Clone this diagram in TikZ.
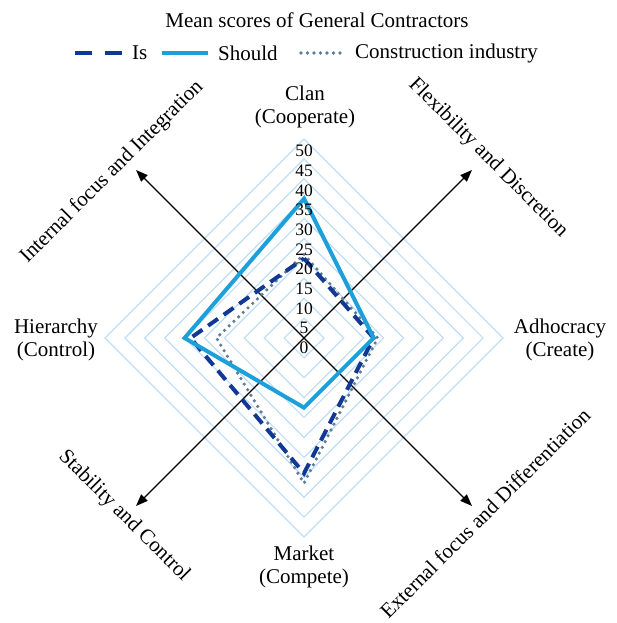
\documentclass[tikz,border=0pt]{standalone}
\usepackage{fontspec}
\setmainfont{Liberation Serif}
\usetikzlibrary{arrows.meta}
\definecolor{gridblue}{RGB}{190,222,248}
\definecolor{shouldc}{RGB}{27,160,220}
\definecolor{isc}{RGB}{16,56,148}
\definecolor{indc}{RGB}{95,125,150}
\tikzset{
 lbl/.style={font=\fontsize{21}{23}\selectfont, align=center, inner sep=0pt},
 numlbl/.style={font=\fontsize{17.5}{17.5}\selectfont, inner sep=0pt},
 gridline/.style={draw=gridblue, line width=1.2pt},
 axisline/.style={draw=black, line width=1.4pt, {Triangle[length=12pt,width=9pt]}-{Triangle[length=12pt,width=9pt]}},
 isline/.style={draw=isc, line width=4pt, dash pattern=on 12pt off 7pt},
 shouldline/.style={draw=shouldc, line width=4pt, line join=miter},
 indline/.style={draw=indc, line width=3.6pt, dash pattern=on 0pt off 6.5pt, line cap=round},
}
\newcommand\myradar[5]{\draw[#1] (304,{338-#2*3.98}) -- ({304+#3*3.98},338) -- (304,{338+#4*3.98}) -- ({304-#5*3.98},338) -- cycle;}
\begin{document}
\begin{tikzpicture}[x=1pt,y=-1pt]
\useasboundingbox (0,0) rectangle (616,623);
% grid
\foreach \k in {1,...,10} {
  \pgfmathsetmacro{\r}{\k*5*3.98}
  \draw[gridline] (304,{338-\r}) -- ({304+\r},338) -- (304,{338+\r}) -- ({304-\r},338) -- cycle;
}
% axes
\coordinate (TL) at (136,170);
\coordinate (BR) at (472,506);
\coordinate (TR) at (472,170);
\coordinate (BL) at (136,506);
\draw[axisline] (TL) -- (BR);
\draw[axisline] (BL) -- (TR);
% data
\myradar{indline}{21}{18.5}{36.5}{22}
\myradar{isline}{20}{17.5}{34}{28.5}
\myradar{shouldline}{35}{17.5}{17.5}{30}
% scale numbers
\foreach \v in {0,5,...,50} {
  \node[numlbl] (n\v) at (304,{151+(50-\v)*3.94}) {\v};
}
% title and legend
\node[lbl] (title) at (317,20) {Mean scores of General Contractors};
\coordinate (is1) at (75,53);
\coordinate (is2) at (122,53);
\draw[draw=isc, line width=4pt, dash pattern=on 17pt off 13pt] (is1) -- (is2);
\node[lbl, anchor=west] (istxt) at (132,53) {Is};
\coordinate (sh1) at (162,53);
\coordinate (sh2) at (208,53);
\draw[shouldline] (sh1) -- (sh2);
\node[lbl, anchor=west] (shtxt) at (218,53) {Should};
\coordinate (in1) at (301,53);
\coordinate (in2) at (345,53);
\draw[indline] (in1) -- (in2);
\node[lbl, anchor=west] (intxt) at (355,53) {Construction industry};
% quadrant labels
\node[lbl] (clan) at (305,107) {Clan\\(Cooperate)};
\node[lbl] (hier) at (56,340) {Hierarchy\\(Control)};
\node[lbl] (adho) at (560,340) {Adhocracy\\(Create)};
\node[lbl] (mark) at (304,567) {Market\\(Compete)};
% axis labels
\node[lbl, rotate=45] (lint) at (112,172) {Internal focus and Integration};
\node[lbl, rotate=-45] (lflex) at (488,158) {Flexibility and Discretion};
\node[lbl, rotate=-45] (lstab) at (124,516) {Stability and Control};
\node[lbl, rotate=45] (lext) at (485,513) {External focus and Differentiation};
\end{tikzpicture}
\end{document}
